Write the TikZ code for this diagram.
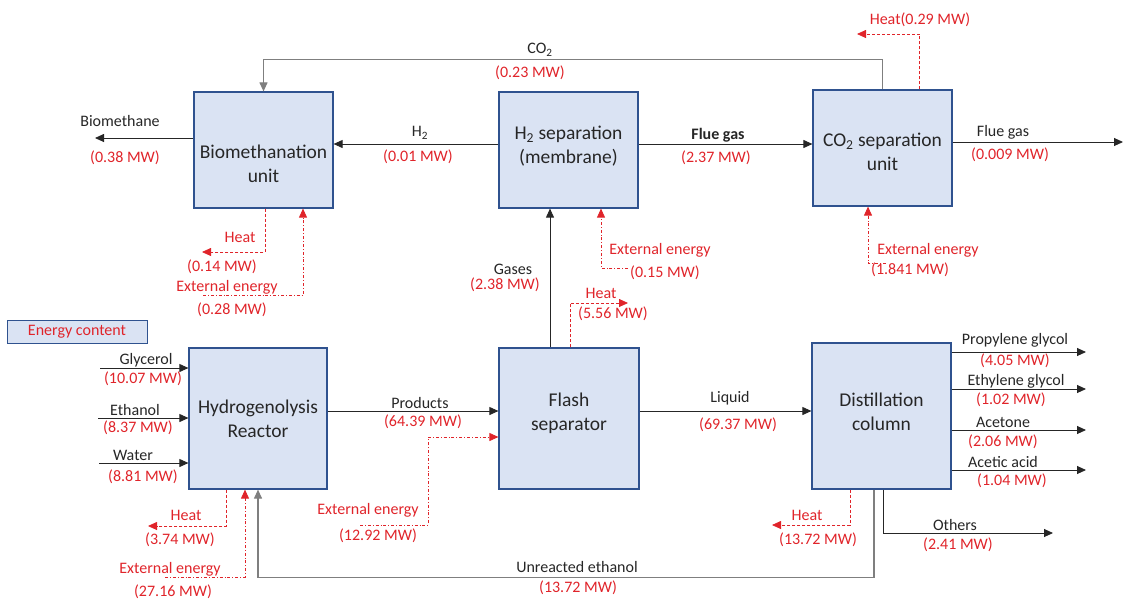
\documentclass[tikz,border=0pt]{standalone}
\usepackage{fontspec}
\setmainfont{Carlito}
\usepackage{tikz}
\usetikzlibrary{arrows.meta}
\definecolor{ink}{HTML}{262626}
\definecolor{redtxt}{HTML}{E0242A}
\definecolor{boxfill}{HTML}{DAE3F3}
\definecolor{boxline}{HTML}{2F528F}
\definecolor{loopgray}{HTML}{7F7F7F}
\tikzset{
  unit/.style={draw=boxline, fill=boxfill, line width=1.2pt, align=center, text=ink,
    minimum width=139pt, minimum height=116pt, font=\fontsize{19.5}{24}\selectfont},
  flow/.style={draw=ink, line width=0.9pt, -{Triangle[length=9pt,width=8pt]}},
  back/.style={draw=loopgray, line width=1.1pt, -{Triangle[length=9pt,width=8pt]}},
  heat/.style={draw=redtxt, line width=0.8pt, densely dashed, -{Triangle[length=9pt,width=8pt]}},
  ext/.style={draw=redtxt, line width=0.8pt, dash dot, -{Triangle[length=9pt,width=8pt]}},
  lab/.style={text=ink, inner sep=0pt, font=\fontsize{16}{18}\selectfont},
  rlab/.style={text=redtxt, inner sep=0pt, font=\fontsize{16}{18}\selectfont},
}
\begin{document}
\begin{tikzpicture}[x=1pt, y=-1pt]
  \useasboundingbox (0,0) rectangle (1123,598);
  % units
  \node[unit] (bio) at (263.5,150) {\mbox{}\\[18pt]Biomethanation\\unit};
  \node[unit] (h2sep) at (568.5,150) {H\textsubscript{2} separation\\(membrane)\\[-14pt]\mbox{}};
  \node[unit] (co2sep) at (882.5,148) {\mbox{}\\[-3pt]CO\textsubscript{2} separation\\unit};
  \node[unit, minimum width=138pt, minimum height=141pt] (hydro) at (258,418.5) {Hydrogenolysis\\Reactor};
  \node[unit, minimum width=140pt, minimum height=141pt] (flash) at (569,418.5) {Flash\\separator\\[-10pt]\mbox{}};
  \node[unit, minimum height=146pt] (dist) at (881.5,416) {Distillation\\column\\[-16pt]\mbox{}};
  \node[unit, minimum width=140pt, minimum height=23pt, line width=1pt, text=redtxt,
    font=\fontsize{16}{18}\selectfont] (legend) at (77,331.5) {Energy content};

  % free ends
  \coordinate (heatA) at (857,34);
  \coordinate (fgOut) at (1123,142);
  \coordinate (bmOut) at (95,138);
  \coordinate (heatB) at (202,252);
  \coordinate (extB) at (203,295);
  \coordinate (extC) at (628,268);
  \coordinate (heatC) at (628,303);
  \coordinate (extD) at (886,263);
  \coordinate (extE) at (360,525);
  \coordinate (glyIn) at (100,368);
  \coordinate (ethIn) at (98,418);
  \coordinate (watIn) at (99,463);
  \coordinate (heatD) at (148,526);
  \coordinate (extF) at (165,577);
  \coordinate (heatE) at (772,525);
  \coordinate (othOut) at (1053,533);
  \coordinate (pgOut) at (1086,352);
  \coordinate (egOut) at (1086,389);
  \coordinate (acOut) at (1086,430);
  \coordinate (aaOut) at (1086,470);

  % main streams
  \draw[back] (co2sep.north) -- ++(0,-30) -| (bio.north);
  \draw[flow] ([yshift=6pt]h2sep.west) -- ([yshift=6pt]bio.east);
  \draw[flow] ([yshift=6pt]h2sep.east) coordinate (fg) -- (co2sep.west |- fg);
  \draw[flow] ([yshift=6pt]co2sep.east) -- (fgOut);
  \draw[flow] ([yshift=12pt]bio.west) -- (bmOut);
  \draw[flow] ([xshift=-19pt]flash.north) coordinate (gs) -- (h2sep.south -| gs);
  \draw[flow] ([yshift=7.5pt]hydro.east) coordinate (pr) -- (flash.west |- pr);
  \draw[flow] ([yshift=7.5pt]flash.east) coordinate (lq) -- (dist.west |- lq);
  \foreach \s in {glyIn,ethIn,watIn}
    \draw[flow] (\s) -- (hydro.west |- \s);
  \foreach \s in {pgOut,egOut,acOut,aaOut}
    \draw[flow] (dist.east |- \s) -- (\s);
  \draw[flow] ([xshift=1.5pt]dist.south) |- (othOut);
  \draw[back] ([xshift=-7.5pt]dist.south) -- ++(0,88) -| (hydro.south);

  % energy streams
  \draw[heat] ([xshift=37pt]co2sep.north) |- (heatA);
  \draw[heat] ([xshift=1.5pt]bio.south) |- (heatB);
  \draw[ext] (extB) -| ([xshift=39.5pt]bio.south);
  \draw[ext] (extC) -| ([xshift=32.5pt]h2sep.south);
  \draw[heat] ([xshift=1pt]flash.north) |- (heatC);
  \draw[ext] (extD) -| ([xshift=-14.5pt]co2sep.south);
  \draw[ext] (extE) -| ([xshift=-70pt,yshift=-18.5pt]flash.west) -- ([yshift=-18.5pt]flash.west);
  \draw[heat] ([xshift=-32pt]hydro.south) |- (heatD);
  \draw[ext] (extF) -| ([xshift=-13pt]hydro.south);
  \draw[heat] ([xshift=-31.5pt]dist.south) |- (heatE);

  % stream names
  \foreach \n/\x/\y/\t in {co2/540/50/CO\textsubscript{2}, h2/420/133/H\textsubscript{2},
      fgo/1003/132/Flue gas, bm/120/121/Biomethane, gas/513/269/Gases,
      prod/420/403/Products, liq/730/398/Liquid, gly/146/360/Glycerol,
      eth/135/410/Ethanol, wat/133/455/Water, unr/577/567/Unreacted ethanol,
      oth/955/525/Others, pg/1015/340/Propylene glycol, eg/1016/381/Ethylene glycol,
      ac/1003/422/Acetone, aa/1003/462/Acetic acid}
    \node[lab] (\n-name) at (\x,\y) {\t};
  \node[lab, font=\fontsize{16}{18}\bfseries] (fg-name) at (718,135) {Flue gas};

  % energy values
  \foreach \n/\x/\y/\t in {co2/530/73/(0.23 MW), co2h/920/20/Heat(0.29 MW),
      h2/418/157/(0.01 MW), fg/716/158/(2.37 MW), fgo/1010/155/(0.009 MW),
      bm/125/158/(0.38 MW), gas/505/285/(2.38 MW), prod/423/422/(64.39 MW),
      liq/738/425/(69.37 MW), gly/143/379/(10.07 MW), eth/138/428/(8.37 MW),
      wat/143/477/(8.81 MW), unr/578/588/(13.72 MW), oth/958/545/(2.41 MW),
      pg/1015/361/(4.05 MW), eg/1011/400/(1.02 MW), ac/1003/442/(2.06 MW),
      aa/1012/481/(1.04 MW)}
    \node[rlab] (\n-val) at (\x,\y) {\t};
  \foreach \n/\x/\y/\t in {bioh/240/237/Heat, bioh/222/267/(0.14 MW),
      bioe/227/287/External energy, bioe/232/310/(0.28 MW),
      h2e/660/250/External energy, h2e/665/273/(0.15 MW),
      flh/601/293/Heat, flh/613/314/(5.56 MW),
      co2e/928/250/External energy, co2e/910/270/(1.841 MW),
      fle/368/510/External energy, fle/378/536/(12.92 MW),
      hyh/186/515/Heat, hyh/180/540/(3.74 MW),
      hye/170/569/External energy, hye/173/592/(27.16 MW),
      dih/807/515/Heat, dih/818/540/(13.72 MW)}
    \node[rlab] (\n-\y) at (\x,\y) {\t};
\end{tikzpicture}
\end{document}
